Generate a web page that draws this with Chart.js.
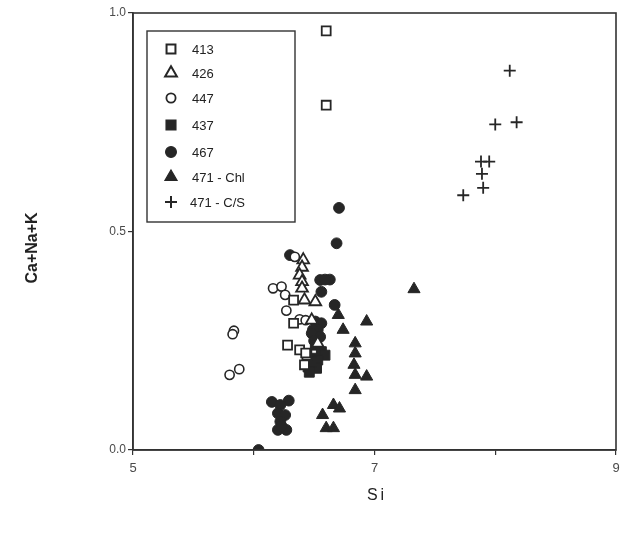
<!DOCTYPE html>
<html><head><meta charset="utf-8">
<script src="https://cdn.jsdelivr.net/npm/chart.js@4/dist/chart.umd.min.js"></script>
<style>html,body{margin:0;padding:0;background:#fff}#wrap{width:630px;height:538px}</style>
</head><body><div id="wrap"><canvas id="c" width="630" height="538"></canvas></div>
<script>
const seriesNames = ["413", "426", "447", "437", "467", "471 - Chl", "471 - C/S"];
const xTickLabels = [5, 7, 9];
const yTickLabels = [0.0, 0.5, 1.0];

const s413 = [[6.60,0.959],[6.60,0.789],[6.33,0.343],[6.33,0.29],[6.28,0.24],[6.38,0.229],[6.44,0.217],[6.42,0.195],[6.43,0.222]];
const s426 = [[6.41,0.435],[6.40,0.418],[6.38,0.40],[6.40,0.385],[6.40,0.37],[6.42,0.343],[6.51,0.339],[6.48,0.297],[6.53,0.244]];
const s447 = [[5.836,0.273],[5.825,0.265],[5.80,0.172],[5.88,0.185],[6.16,0.37],[6.23,0.374],[6.26,0.355],[6.34,0.442],[6.27,0.319],[6.38,0.299],[6.43,0.297]];
const s437 = [[6.51,0.24],[6.56,0.225],[6.59,0.217],[6.49,0.21],[6.53,0.206],[6.45,0.19],[6.52,0.187],[6.48,0.202],[6.46,0.178]];
const s467 = [[6.706,0.554],[6.686,0.473],[6.55,0.389],[6.63,0.390],[6.59,0.39],[6.30,0.446],[6.56,0.362],[6.67,0.332],[6.51,0.294],[6.56,0.29],[6.53,0.275],[6.49,0.275],[6.48,0.267],[6.55,0.259],[6.50,0.25],[6.04,0.0],[6.15,0.11],[6.29,0.113],[6.22,0.103],[6.20,0.084],[6.26,0.08],[6.22,0.065],[6.20,0.046],[6.27,0.046],[6.23,0.055]];
const s471chl = [[7.327,0.368],[6.70,0.309],[6.935,0.294],[6.74,0.275],[6.84,0.244],[6.84,0.221],[6.83,0.195],[6.84,0.172],[6.935,0.168],[6.84,0.137],[6.66,0.103],[6.71,0.095],[6.57,0.080],[6.60,0.05],[6.66,0.05]];
const s471cs = [[8.12,0.868],[8.0,0.745],[8.177,0.750],[7.882,0.660],[7.95,0.660],[7.89,0.632],[7.90,0.600],[7.735,0.583]];

const INK = '#262626';
const toPts = a => a.map(p => ({x: p[0], y: p[1]}));
const styles = [
  {pointStyle:'rect', radius:6.3, fill:'#fff', bw:1.8},
  {pointStyle:'triangle', radius:6.8, fill:'#fff', bw:1.8},
  {pointStyle:'circle', radius:4.6, fill:'#fff', bw:1.6},
  {pointStyle:'rect', radius:7, fill:INK, bw:1},
  {pointStyle:'circle', radius:5.4, fill:INK, bw:1},
  {pointStyle:'triangle', radius:7, fill:INK, bw:1},
  {pointStyle:'cross', radius:6, fill:INK, bw:1.8}
];
const allData = [s413, s426, s447, s437, s467, s471chl, s471cs];
const datasets = allData.map((d, i) => ({
  label: seriesNames[i],
  data: toPts(d),
  pointStyle: styles[i].pointStyle,
  pointRadius: styles[i].radius,
  pointHoverRadius: styles[i].radius,
  pointBackgroundColor: styles[i].fill,
  pointBorderColor: INK,
  pointBorderWidth: styles[i].bw,
  showLine: false
}));

const framePlugin = {
  id: 'frame',
  afterDraw(chart) {
    const {ctx, chartArea: a} = chart;
    ctx.save();
    ctx.strokeStyle = '#333';
    ctx.lineWidth = 1.6;
    ctx.strokeRect(a.left, a.top, a.right - a.left, a.bottom - a.top);
    // legend box
    const lx = 147, ly = 31, lw = 148, lh = 191;
    ctx.lineWidth = 1.4;
    ctx.strokeRect(lx, ly, lw, lh);
    const rows = [49, 73, 98, 125, 152, 177, 202];
    ctx.font = '13px "Liberation Sans", Arial, sans-serif';
    ctx.textBaseline = 'middle';
    ctx.textAlign = 'left';
    seriesNames.forEach((n, i) => {
      const st = styles[i];
      ctx.save();
      ctx.fillStyle = st.fill;
      ctx.strokeStyle = INK;
      ctx.lineWidth = st.bw + 0.2;
      Chart.helpers.drawPoint(ctx, {pointStyle: st.pointStyle, radius: st.radius, borderWidth: st.bw + 0.2, rotation: 0}, 171, rows[i]);
      ctx.restore();
      ctx.fillStyle = '#222';
      ctx.fillText(n, i === 6 ? 190 : 192, rows[i] + 1);
    });
    // axis titles
    ctx.font = 'bold 16px "Liberation Sans", Arial, sans-serif';
    ctx.fillStyle = '#222';
    ctx.textAlign = 'center';
    ctx.save();
    ctx.translate(33, 248);
    ctx.rotate(-Math.PI / 2);
    ctx.fillText('Ca+Na+K', 0, 0);
    ctx.restore();
    ctx.font = '16px "Liberation Sans", Arial, sans-serif';
    if (ctx.letterSpacing !== undefined) ctx.letterSpacing = '3px';
    ctx.fillText('Si', 377, 496);
    ctx.restore();
  }
};

new Chart(document.getElementById('c'), {
  type: 'scatter',
  data: { datasets },
  options: {
    responsive: false,
    animation: false,
    layout: { padding: { left: 0, top: 13, right: 14, bottom: 0 } },
    plugins: { legend: { display: false }, tooltip: { enabled: false } },
    scales: {
      x: {
        type: 'linear', min: 5, max: 9,
        afterFit: s => { s.height = 88; },
        afterBuildTicks: s => { s.ticks = [5,6,7,8,9].map(v => ({value: v})); },
        grid: { drawOnChartArea: false, drawTicks: true, tickLength: 5, color: '#333', lineWidth: 1.2 },
        border: { display: true, color: '#333', width: 1.6 },
        ticks: {
          color: '#4a4a4a', padding: 6,
          font: { size: 13, family: '"Liberation Sans", Arial, sans-serif' },
          callback: v => xTickLabels.includes(v) ? String(v) : ''
        }
      },
      y: {
        type: 'linear', min: 0, max: 1,
        afterFit: s => { s.width = 133; },
        afterBuildTicks: s => { s.ticks = yTickLabels.map(v => ({value: v})); },
        grid: { drawOnChartArea: false, drawTicks: true, tickLength: 5, color: '#333', lineWidth: 1.2 },
        border: { display: true, color: '#333', width: 1.6 },
        ticks: {
          color: '#4a4a4a', padding: 2,
          font: { size: 12, family: '"Liberation Sans", Arial, sans-serif' },
          callback: v => v.toFixed(1)
        }
      }
    }
  },
  plugins: [framePlugin]
});
</script></body></html>
